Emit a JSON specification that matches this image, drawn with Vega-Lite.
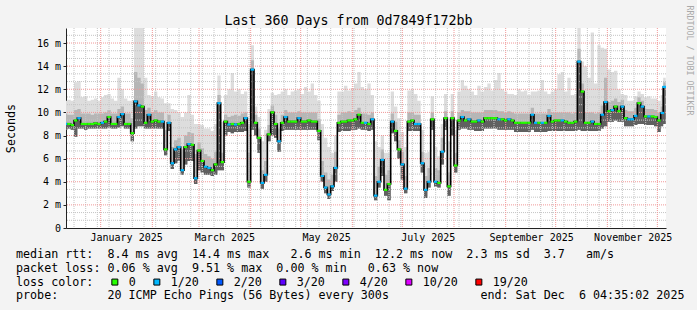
{
"$schema": "https://vega.github.io/schema/vega-lite/v6.json",
"width": 600, "height": 200,
"autosize": {"type": "none"},
"padding": {"left": 66, "top": 28, "right": 31, "bottom": 82},
"background": "#f3f3f3",
"view": {"fill": "#ffffff", "stroke": null},
"title": {"text": ["median\u00a0rtt:\u00a0\u00a08.4\u00a0ms\u00a0avg\u00a0\u00a014.4\u00a0ms\u00a0max\u00a0\u00a0\u00a02.6\u00a0ms\u00a0min\u00a0\u00a012.2\u00a0ms\u00a0now\u00a0\u00a02.3\u00a0ms\u00a0sd\u00a0\u00a03.7\u00a0\u00a0\u00a0am/s", "packet\u00a0loss:\u00a00.06\u00a0%\u00a0avg\u00a0\u00a09.51\u00a0%\u00a0max\u00a0\u00a00.00\u00a0%\u00a0min\u00a0\u00a0\u00a00.63\u00a0%\u00a0now", "loss\u00a0color:", "probe:\u00a0\u00a0\u00a0\u00a0\u00a0\u00a0\u00a020\u00a0ICMP\u00a0Echo\u00a0Pings\u00a0(56\u00a0Bytes)\u00a0every\u00a0300s\u00a0\u00a0\u00a0\u00a0\u00a0\u00a0\u00a0\u00a0\u00a0\u00a0\u00a0\u00a0\u00a0end:\u00a0Sat\u00a0Dec\u00a0\u00a06\u00a004:35:02\u00a02025"],
 "orient": "bottom", "anchor": "start", "frame": "group", "dx": -50, "offset": -40,
 "font": "DejaVu Sans Mono", "fontSize": 11.69, "fontWeight": "normal", "color": "#000000", "lineHeight": 13.8, "align": "left", "baseline": "top"},
"datasets": {
"smoke": [
{"d":"2024-12-11","med":9.0,"lo":8.5,"up":9.9,"hi":11.0,"loss":"1/20"},
{"d":"2024-12-13","med":9.0,"lo":8.6,"up":9.8,"hi":11.1,"loss":"0"},
{"d":"2024-12-15","med":8.9,"lo":8.5,"up":9.8,"hi":11.0,"loss":"0"},
{"d":"2024-12-17","med":9.3,"lo":7.9,"up":10.2,"hi":12.6,"loss":"0"},
{"d":"2024-12-19","med":9.5,"lo":8.6,"up":10.3,"hi":12.7,"loss":"1/20"},
{"d":"2024-12-21","med":9.0,"lo":8.6,"up":9.9,"hi":11.3,"loss":"0"},
{"d":"2024-12-23","med":9.0,"lo":8.5,"up":9.9,"hi":11.4,"loss":"0"},
{"d":"2024-12-25","med":9.0,"lo":8.6,"up":9.9,"hi":11.0,"loss":"0"},
{"d":"2024-12-27","med":9.0,"lo":8.6,"up":9.8,"hi":11.1,"loss":"0"},
{"d":"2024-12-29","med":9.05,"lo":8.6,"up":9.9,"hi":11.2,"loss":"0"},
{"d":"2024-12-31","med":9.0,"lo":8.6,"up":9.9,"hi":11.0,"loss":"0"},
{"d":"2025-01-02","med":9.1,"lo":8.6,"up":9.9,"hi":11.3,"loss":"1/20"},
{"d":"2025-01-04","med":9.2,"lo":8.6,"up":10.0,"hi":11.5,"loss":"0"},
{"d":"2025-01-06","med":9.6,"lo":8.7,"up":10.2,"hi":11.6,"loss":"0"},
{"d":"2025-01-08","med":9.0,"lo":8.6,"up":9.9,"hi":11.2,"loss":"0"},
{"d":"2025-01-10","med":9.0,"lo":8.6,"up":9.9,"hi":11.0,"loss":"0"},
{"d":"2025-01-12","med":9.6,"lo":8.7,"up":10.3,"hi":13.0,"loss":"1/20"},
{"d":"2025-01-14","med":9.85,"lo":8.8,"up":10.5,"hi":12.0,"loss":"1/20"},
{"d":"2025-01-16","med":9.0,"lo":8.6,"up":9.9,"hi":11.2,"loss":"0"},
{"d":"2025-01-18","med":9.0,"lo":8.6,"up":9.9,"hi":11.0,"loss":"0"},
{"d":"2025-01-20","med":8.2,"lo":7.5,"up":9.5,"hi":11.0,"loss":"0"},
{"d":"2025-01-22","med":10.95,"lo":8.6,"up":13.5,"hi":17.3,"loss":"1/20"},
{"d":"2025-01-24","med":10.6,"lo":8.8,"up":13.0,"hi":17.3,"loss":"1/20"},
{"d":"2025-01-26","med":10.5,"lo":8.8,"up":12.5,"hi":17.3,"loss":"0"},
{"d":"2025-01-28","med":9.1,"lo":8.6,"up":10.2,"hi":13.0,"loss":"0"},
{"d":"2025-01-30","med":9.8,"lo":8.6,"up":10.4,"hi":11.5,"loss":"1/20"},
{"d":"2025-02-01","med":9.2,"lo":8.6,"up":10.0,"hi":11.4,"loss":"0"},
{"d":"2025-02-03","med":9.3,"lo":8.6,"up":10.2,"hi":11.8,"loss":"0"},
{"d":"2025-02-05","med":9.2,"lo":8.6,"up":10.0,"hi":11.3,"loss":"0"},
{"d":"2025-02-07","med":9.2,"lo":8.6,"up":10.0,"hi":11.2,"loss":"1/20"},
{"d":"2025-02-09","med":6.8,"lo":6.3,"up":8.5,"hi":10.8,"loss":"0"},
{"d":"2025-02-11","med":9.1,"lo":8.4,"up":9.8,"hi":10.8,"loss":"1/20"},
{"d":"2025-02-13","med":5.6,"lo":5.1,"up":7.0,"hi":10.3,"loss":"1/20"},
{"d":"2025-02-15","med":6.8,"lo":5.6,"up":7.6,"hi":10.2,"loss":"1/20"},
{"d":"2025-02-17","med":7.0,"lo":5.8,"up":7.8,"hi":10.0,"loss":"1/20"},
{"d":"2025-02-19","med":5.0,"lo":4.6,"up":6.8,"hi":9.6,"loss":"1/20"},
{"d":"2025-02-21","med":7.0,"lo":5.5,"up":8.0,"hi":10.0,"loss":"0"},
{"d":"2025-02-23","med":7.26,"lo":5.8,"up":8.3,"hi":11.5,"loss":"1/20"},
{"d":"2025-02-25","med":7.2,"lo":5.8,"up":8.2,"hi":9.8,"loss":"0"},
{"d":"2025-02-27","med":4.3,"lo":3.8,"up":6.4,"hi":9.0,"loss":"1/20"},
{"d":"2025-03-01","med":6.7,"lo":5.0,"up":7.4,"hi":9.0,"loss":"0"},
{"d":"2025-03-03","med":5.8,"lo":4.8,"up":6.9,"hi":8.9,"loss":"0"},
{"d":"2025-03-05","med":5.3,"lo":4.6,"up":6.4,"hi":8.6,"loss":"1/20"},
{"d":"2025-03-07","med":5.2,"lo":4.6,"up":6.2,"hi":8.6,"loss":"1/20"},
{"d":"2025-03-09","med":5.0,"lo":4.5,"up":6.0,"hi":8.4,"loss":"0"},
{"d":"2025-03-11","med":5.5,"lo":4.6,"up":6.6,"hi":9.0,"loss":"0"},
{"d":"2025-03-13","med":10.8,"lo":5.0,"up":11.5,"hi":13.2,"loss":"1/20"},
{"d":"2025-03-15","med":5.7,"lo":5.0,"up":6.5,"hi":9.2,"loss":"0"},
{"d":"2025-03-17","med":9.2,"lo":8.0,"up":9.8,"hi":11.5,"loss":"0"},
{"d":"2025-03-19","med":8.95,"lo":8.3,"up":9.6,"hi":12.0,"loss":"1/20"},
{"d":"2025-03-21","med":9.0,"lo":8.2,"up":9.7,"hi":13.4,"loss":"0"},
{"d":"2025-03-23","med":8.95,"lo":8.3,"up":9.8,"hi":11.8,"loss":"1/20"},
{"d":"2025-03-25","med":9.0,"lo":8.3,"up":9.7,"hi":12.0,"loss":"0"},
{"d":"2025-03-27","med":9.1,"lo":8.3,"up":9.9,"hi":11.6,"loss":"0"},
{"d":"2025-03-29","med":9.5,"lo":8.4,"up":10.0,"hi":11.8,"loss":"1/20"},
{"d":"2025-03-31","med":4.0,"lo":3.5,"up":6.5,"hi":9.0,"loss":"0"},
{"d":"2025-04-02","med":13.7,"lo":8.5,"up":14.5,"hi":15.8,"loss":"1/20"},
{"d":"2025-04-04","med":9.1,"lo":8.0,"up":9.8,"hi":10.5,"loss":"0"},
{"d":"2025-04-06","med":7.8,"lo":6.5,"up":8.6,"hi":9.6,"loss":"0"},
{"d":"2025-04-08","med":3.9,"lo":3.4,"up":5.0,"hi":7.5,"loss":"1/20"},
{"d":"2025-04-10","med":4.6,"lo":4.0,"up":5.8,"hi":8.5,"loss":"1/20"},
{"d":"2025-04-12","med":8.1,"lo":7.5,"up":8.9,"hi":10.3,"loss":"0"},
{"d":"2025-04-14","med":10.0,"lo":8.0,"up":10.6,"hi":11.7,"loss":"0"},
{"d":"2025-04-16","med":9.0,"lo":7.8,"up":9.8,"hi":11.5,"loss":"0"},
{"d":"2025-04-18","med":7.5,"lo":6.6,"up":8.6,"hi":11.6,"loss":"1/20"},
{"d":"2025-04-20","med":9.1,"lo":8.4,"up":9.8,"hi":11.8,"loss":"0"},
{"d":"2025-04-22","med":9.6,"lo":8.5,"up":10.2,"hi":12.0,"loss":"1/20"},
{"d":"2025-04-24","med":9.2,"lo":8.5,"up":10.0,"hi":11.5,"loss":"0"},
{"d":"2025-04-26","med":9.2,"lo":8.5,"up":10.0,"hi":11.8,"loss":"0"},
{"d":"2025-04-28","med":9.2,"lo":8.5,"up":10.0,"hi":11.9,"loss":"0"},
{"d":"2025-04-30","med":9.5,"lo":8.5,"up":10.1,"hi":12.0,"loss":"1/20"},
{"d":"2025-05-02","med":9.2,"lo":8.5,"up":10.0,"hi":11.6,"loss":"0"},
{"d":"2025-05-04","med":9.2,"lo":8.5,"up":10.0,"hi":12.2,"loss":"0"},
{"d":"2025-05-06","med":9.3,"lo":8.5,"up":10.0,"hi":11.8,"loss":"0"},
{"d":"2025-05-08","med":9.2,"lo":8.5,"up":10.0,"hi":12.5,"loss":"0"},
{"d":"2025-05-10","med":9.2,"lo":8.5,"up":10.0,"hi":11.5,"loss":"0"},
{"d":"2025-05-12","med":8.4,"lo":7.6,"up":9.4,"hi":11.0,"loss":"0"},
{"d":"2025-05-14","med":4.5,"lo":4.0,"up":5.8,"hi":9.0,"loss":"1/20"},
{"d":"2025-05-16","med":3.5,"lo":3.0,"up":4.8,"hi":7.8,"loss":"1/20"},
{"d":"2025-05-18","med":2.9,"lo":2.5,"up":4.2,"hi":7.0,"loss":"1/20"},
{"d":"2025-05-20","med":3.6,"lo":3.2,"up":4.6,"hi":6.5,"loss":"1/20"},
{"d":"2025-05-22","med":5.2,"lo":4.0,"up":6.6,"hi":8.0,"loss":"1/20"},
{"d":"2025-05-24","med":9.1,"lo":8.3,"up":9.8,"hi":11.8,"loss":"0"},
{"d":"2025-05-26","med":9.2,"lo":8.4,"up":10.0,"hi":11.8,"loss":"0"},
{"d":"2025-05-28","med":9.2,"lo":8.4,"up":10.0,"hi":12.3,"loss":"0"},
{"d":"2025-05-30","med":9.3,"lo":8.4,"up":10.1,"hi":11.9,"loss":"0"},
{"d":"2025-06-01","med":9.3,"lo":8.5,"up":10.0,"hi":12.1,"loss":"0"},
{"d":"2025-06-03","med":9.4,"lo":8.5,"up":10.2,"hi":12.5,"loss":"0"},
{"d":"2025-06-05","med":9.8,"lo":8.6,"up":10.4,"hi":13.5,"loss":"0"},
{"d":"2025-06-07","med":9.1,"lo":8.5,"up":9.9,"hi":12.2,"loss":"0"},
{"d":"2025-06-09","med":9.1,"lo":8.5,"up":9.9,"hi":12.0,"loss":"1/20"},
{"d":"2025-06-11","med":9.0,"lo":8.4,"up":9.8,"hi":12.5,"loss":"0"},
{"d":"2025-06-13","med":9.4,"lo":8.5,"up":10.0,"hi":11.5,"loss":"1/20"},
{"d":"2025-06-15","med":2.8,"lo":2.4,"up":4.5,"hi":7.5,"loss":"1/20"},
{"d":"2025-06-17","med":4.0,"lo":3.5,"up":5.3,"hi":7.0,"loss":"1/20"},
{"d":"2025-06-19","med":5.9,"lo":4.5,"up":6.8,"hi":8.0,"loss":"1/20"},
{"d":"2025-06-21","med":3.3,"lo":2.8,"up":4.6,"hi":6.5,"loss":"0"},
{"d":"2025-06-23","med":3.8,"lo":2.4,"up":5.0,"hi":6.5,"loss":"0"},
{"d":"2025-06-25","med":9.2,"lo":8.2,"up":9.9,"hi":11.8,"loss":"1/20"},
{"d":"2025-06-27","med":8.4,"lo":7.5,"up":9.2,"hi":10.5,"loss":"0"},
{"d":"2025-06-29","med":6.8,"lo":6.0,"up":7.6,"hi":9.5,"loss":"0"},
{"d":"2025-07-01","med":5.5,"lo":4.2,"up":6.6,"hi":8.3,"loss":"1/20"},
{"d":"2025-07-03","med":3.4,"lo":3.0,"up":4.5,"hi":7.0,"loss":"1/20"},
{"d":"2025-07-05","med":9.2,"lo":8.4,"up":10.0,"hi":11.9,"loss":"0"},
{"d":"2025-07-07","med":9.3,"lo":8.4,"up":10.0,"hi":12.0,"loss":"0"},
{"d":"2025-07-09","med":9.0,"lo":8.4,"up":9.8,"hi":11.6,"loss":"1/20"},
{"d":"2025-07-11","med":9.0,"lo":8.4,"up":9.8,"hi":11.0,"loss":"1/20"},
{"d":"2025-07-13","med":5.6,"lo":4.8,"up":6.6,"hi":8.5,"loss":"1/20"},
{"d":"2025-07-15","med":3.3,"lo":2.6,"up":4.5,"hi":6.5,"loss":"1/20"},
{"d":"2025-07-17","med":4.0,"lo":3.5,"up":5.2,"hi":6.6,"loss":"1/20"},
{"d":"2025-07-19","med":9.4,"lo":8.5,"up":10.0,"hi":11.4,"loss":"0"},
{"d":"2025-07-21","med":4.0,"lo":3.6,"up":5.2,"hi":7.0,"loss":"1/20"},
{"d":"2025-07-23","med":3.9,"lo":3.5,"up":5.0,"hi":6.2,"loss":"0"},
{"d":"2025-07-25","med":6.6,"lo":5.5,"up":7.8,"hi":9.0,"loss":"1/20"},
{"d":"2025-07-27","med":9.5,"lo":8.5,"up":10.1,"hi":11.6,"loss":"0"},
{"d":"2025-07-29","med":3.6,"lo":2.8,"up":4.8,"hi":7.5,"loss":"0"},
{"d":"2025-07-31","med":9.5,"lo":8.0,"up":10.1,"hi":11.6,"loss":"0"},
{"d":"2025-08-02","med":5.4,"lo":4.8,"up":6.5,"hi":8.5,"loss":"0"},
{"d":"2025-08-04","med":9.3,"lo":8.5,"up":10.0,"hi":11.8,"loss":"0"},
{"d":"2025-08-06","med":9.6,"lo":8.6,"up":10.2,"hi":12.8,"loss":"1/20"},
{"d":"2025-08-08","med":9.3,"lo":8.6,"up":10.1,"hi":12.3,"loss":"0"},
{"d":"2025-08-10","med":9.4,"lo":8.5,"up":10.1,"hi":12.0,"loss":"1/20"},
{"d":"2025-08-12","med":9.2,"lo":8.5,"up":10.0,"hi":11.8,"loss":"0"},
{"d":"2025-08-14","med":9.2,"lo":8.4,"up":10.0,"hi":11.5,"loss":"0"},
{"d":"2025-08-16","med":9.3,"lo":8.4,"up":10.0,"hi":12.3,"loss":"1/20"},
{"d":"2025-08-18","med":9.2,"lo":8.4,"up":10.0,"hi":11.8,"loss":"0"},
{"d":"2025-08-20","med":9.5,"lo":8.6,"up":10.2,"hi":12.2,"loss":"0"},
{"d":"2025-08-22","med":9.5,"lo":8.6,"up":10.2,"hi":12.5,"loss":"0"},
{"d":"2025-08-24","med":9.5,"lo":8.6,"up":10.2,"hi":11.9,"loss":"0"},
{"d":"2025-08-26","med":9.5,"lo":8.6,"up":10.2,"hi":12.8,"loss":"0"},
{"d":"2025-08-28","med":9.4,"lo":8.5,"up":10.1,"hi":13.4,"loss":"1/20"},
{"d":"2025-08-30","med":9.4,"lo":8.5,"up":10.1,"hi":12.0,"loss":"0"},
{"d":"2025-09-01","med":9.3,"lo":8.5,"up":10.0,"hi":11.8,"loss":"0"},
{"d":"2025-09-03","med":9.4,"lo":8.5,"up":10.1,"hi":11.6,"loss":"1/20"},
{"d":"2025-09-05","med":9.3,"lo":8.5,"up":10.0,"hi":11.6,"loss":"0"},
{"d":"2025-09-07","med":9.1,"lo":8.3,"up":9.9,"hi":11.5,"loss":"0"},
{"d":"2025-09-09","med":9.1,"lo":8.3,"up":9.9,"hi":12.0,"loss":"0"},
{"d":"2025-09-11","med":9.1,"lo":8.3,"up":9.9,"hi":11.8,"loss":"0"},
{"d":"2025-09-13","med":9.1,"lo":8.3,"up":9.9,"hi":11.9,"loss":"0"},
{"d":"2025-09-15","med":9.1,"lo":8.3,"up":9.9,"hi":11.5,"loss":"0"},
{"d":"2025-09-17","med":9.8,"lo":8.5,"up":10.4,"hi":11.8,"loss":"1/20"},
{"d":"2025-09-19","med":9.1,"lo":8.3,"up":9.9,"hi":11.8,"loss":"1/20"},
{"d":"2025-09-21","med":9.1,"lo":8.3,"up":9.9,"hi":11.9,"loss":"0"},
{"d":"2025-09-23","med":9.1,"lo":8.3,"up":9.9,"hi":12.8,"loss":"1/20"},
{"d":"2025-09-25","med":9.1,"lo":8.3,"up":9.9,"hi":11.8,"loss":"0"},
{"d":"2025-09-27","med":9.7,"lo":8.4,"up":10.3,"hi":11.6,"loss":"1/20"},
{"d":"2025-09-29","med":9.2,"lo":8.4,"up":10.0,"hi":11.8,"loss":"0"},
{"d":"2025-10-01","med":9.3,"lo":8.4,"up":10.0,"hi":12.0,"loss":"0"},
{"d":"2025-10-03","med":9.3,"lo":8.4,"up":10.0,"hi":13.3,"loss":"0"},
{"d":"2025-10-05","med":9.3,"lo":8.4,"up":10.0,"hi":13.5,"loss":"1/20"},
{"d":"2025-10-07","med":9.2,"lo":8.4,"up":10.0,"hi":11.8,"loss":"0"},
{"d":"2025-10-09","med":9.1,"lo":8.4,"up":10.0,"hi":13.0,"loss":"0"},
{"d":"2025-10-11","med":9.1,"lo":8.4,"up":9.9,"hi":11.5,"loss":"0"},
{"d":"2025-10-13","med":9.2,"lo":8.4,"up":10.0,"hi":11.6,"loss":"0"},
{"d":"2025-10-15","med":14.4,"lo":8.5,"up":15.5,"hi":17.3,"loss":"1/20"},
{"d":"2025-10-17","med":11.8,"lo":8.4,"up":12.5,"hi":14.4,"loss":"0"},
{"d":"2025-10-19","med":9.1,"lo":8.4,"up":10.0,"hi":14.0,"loss":"0"},
{"d":"2025-10-21","med":9.1,"lo":8.4,"up":10.0,"hi":13.0,"loss":"0"},
{"d":"2025-10-23","med":9.2,"lo":8.4,"up":10.0,"hi":16.9,"loss":"1/20"},
{"d":"2025-10-25","med":9.0,"lo":8.4,"up":9.9,"hi":12.5,"loss":"0"},
{"d":"2025-10-27","med":9.0,"lo":8.4,"up":10.0,"hi":15.8,"loss":"0"},
{"d":"2025-10-29","med":9.8,"lo":8.6,"up":10.6,"hi":15.6,"loss":"1/20"},
{"d":"2025-10-31","med":10.9,"lo":8.8,"up":13.0,"hi":15.5,"loss":"1/20"},
{"d":"2025-11-02","med":10.1,"lo":9.2,"up":10.9,"hi":13.7,"loss":"0"},
{"d":"2025-11-04","med":10.2,"lo":9.2,"up":11.0,"hi":13.5,"loss":"1/20"},
{"d":"2025-11-06","med":10.5,"lo":9.3,"up":11.2,"hi":13.6,"loss":"0"},
{"d":"2025-11-08","med":10.1,"lo":9.2,"up":10.9,"hi":12.0,"loss":"0"},
{"d":"2025-11-10","med":10.5,"lo":9.2,"up":11.1,"hi":11.6,"loss":"1/20"},
{"d":"2025-11-12","med":9.5,"lo":8.8,"up":10.2,"hi":11.5,"loss":"0"},
{"d":"2025-11-14","med":9.4,"lo":8.8,"up":10.1,"hi":11.0,"loss":"1/20"},
{"d":"2025-11-16","med":9.4,"lo":8.8,"up":10.1,"hi":11.0,"loss":"1/20"},
{"d":"2025-11-18","med":9.7,"lo":8.9,"up":10.4,"hi":11.4,"loss":"1/20"},
{"d":"2025-11-20","med":10.8,"lo":9.0,"up":11.3,"hi":11.8,"loss":"0"},
{"d":"2025-11-22","med":10.5,"lo":9.0,"up":11.0,"hi":11.6,"loss":"1/20"},
{"d":"2025-11-24","med":9.65,"lo":8.9,"up":10.3,"hi":11.3,"loss":"0"},
{"d":"2025-11-26","med":9.65,"lo":8.9,"up":10.3,"hi":11.4,"loss":"1/20"},
{"d":"2025-11-28","med":9.65,"lo":8.9,"up":10.3,"hi":11.2,"loss":"0"},
{"d":"2025-11-30","med":9.6,"lo":8.8,"up":10.2,"hi":11.2,"loss":"0"},
{"d":"2025-12-02","med":9.3,"lo":8.3,"up":10.0,"hi":11.0,"loss":"0"},
{"d":"2025-12-04","med":9.95,"lo":8.8,"up":10.5,"hi":11.5,"loss":"1/20"},
{"d":"2025-12-05","med":12.2,"lo":9.0,"up":12.6,"hi":13.0,"loss":"1/20"},
{"d":"2025-12-06","med":12.2,"lo":9.0,"up":12.6,"hi":13.0,"loss":"1/20"}
],
"vgrid": [
{"d":"2024-12-16","major":false},{"d":"2024-12-23","major":false},{"d":"2024-12-30","major":false},
{"d":"2025-01-06","major":false},{"d":"2025-01-13","major":false},{"d":"2025-01-20","major":false},{"d":"2025-01-27","major":false},
{"d":"2025-02-03","major":false},{"d":"2025-02-10","major":false},{"d":"2025-02-17","major":false},{"d":"2025-02-24","major":false},
{"d":"2025-03-03","major":false},{"d":"2025-03-10","major":false},{"d":"2025-03-17","major":false},{"d":"2025-03-24","major":false},{"d":"2025-03-31","major":false},
{"d":"2025-04-07","major":false},{"d":"2025-04-14","major":false},{"d":"2025-04-21","major":false},{"d":"2025-04-28","major":false},
{"d":"2025-05-05","major":false},{"d":"2025-05-12","major":false},{"d":"2025-05-19","major":false},{"d":"2025-05-26","major":false},
{"d":"2025-06-02","major":false},{"d":"2025-06-09","major":false},{"d":"2025-06-16","major":false},{"d":"2025-06-23","major":false},{"d":"2025-06-30","major":false},
{"d":"2025-07-07","major":false},{"d":"2025-07-14","major":false},{"d":"2025-07-21","major":false},{"d":"2025-07-28","major":false},
{"d":"2025-08-04","major":false},{"d":"2025-08-11","major":false},{"d":"2025-08-18","major":false},{"d":"2025-08-25","major":false},
{"d":"2025-09-08","major":false},{"d":"2025-09-15","major":false},{"d":"2025-09-22","major":false},{"d":"2025-09-29","major":false},
{"d":"2025-10-06","major":false},{"d":"2025-10-13","major":false},{"d":"2025-10-20","major":false},{"d":"2025-10-27","major":false},
{"d":"2025-11-03","major":false},{"d":"2025-11-10","major":false},{"d":"2025-11-17","major":false},{"d":"2025-11-24","major":false},
{"d":"2025-01-01","major":true},{"d":"2025-02-01","major":true},{"d":"2025-03-01","major":true},{"d":"2025-04-01","major":true},
{"d":"2025-05-01","major":true},{"d":"2025-06-01","major":true},{"d":"2025-07-01","major":true},{"d":"2025-08-01","major":true},
{"d":"2025-09-01","major":true},{"d":"2025-10-01","major":true},{"d":"2025-11-01","major":true},{"d":"2025-12-01","major":true}
],
"hgrid": [
{"v":0.6667,"major":false},{"v":1.3333,"major":false},{"v":2.6667,"major":false},{"v":3.3333,"major":false},
{"v":4.6667,"major":false},{"v":5.3333,"major":false},{"v":6.6667,"major":false},{"v":7.3333,"major":false},
{"v":8.6667,"major":false},{"v":9.3333,"major":false},{"v":10.6667,"major":false},{"v":11.3333,"major":false},
{"v":12.6667,"major":false},{"v":13.3333,"major":false},{"v":14.6667,"major":false},{"v":15.3333,"major":false},{"v":16.6667,"major":false},
{"v":2,"major":true},{"v":4,"major":true},{"v":6,"major":true},{"v":8,"major":true},
{"v":10,"major":true},{"v":12,"major":true},{"v":14,"major":true},{"v":16,"major":true}
]
},
"layer": [
{"data": {"name": "smoke"},
 "mark": {"type": "area", "interpolate": "step", "color": "#dddddd", "clip": true},
 "encoding": {
  "x": {"field": "d", "type": "temporal",
   "scale": {"type": "utc", "domain": [{"year": 2024, "month": 12, "date": 11, "hours": 4, "minutes": 35, "utc": true}, {"year": 2025, "month": 12, "date": 6, "hours": 4, "minutes": 35, "utc": true}]},
   "axis": {
    "orient": "bottom",
    "values": [1737007200000, 1742104800000, 1747375200000, 1752645600000, 1758002400000, 1763272800000],
    "labelExpr": "utcFormat(datum.value, '%B %Y')",
    "grid": false, "ticks": false, "domain": true, "domainColor": "#222222",
    "labelFont": "DejaVu Sans Mono", "labelFontSize": 10, "labelColor": "#000000", "labelPadding": 4, "labelFlush": false, "labelOverlap": false,
    "title": null
   }},
  "y": {"field": "lo", "type": "quantitative", "scale": {"domain": [0, 17.3], "nice": false, "zero": false},
   "axis": {
    "orient": "left",
    "values": [0, 2, 4, 6, 8, 10, 12, 14, 16],
    "labelExpr": "datum.value == 0 ? '0\u00a0\u00a0' : datum.value + '\u00a0m'",
    "grid": false, "ticks": true, "tickSize": 3, "tickColor": "#222222", "domain": true, "domainColor": "#222222",
    "labelFont": "DejaVu Sans Mono", "labelFontSize": 10, "labelColor": "#000000", "labelPadding": 2.5, "labelOverlap": false, "labelFlush": false,
    "title": "Seconds", "titleFont": "DejaVu Sans Mono", "titleFontSize": 11.69, "titleFontWeight": "normal", "titleColor": "#000000",
    "titleAngle": -90, "titleAlign": "center", "titleBaseline": "middle", "titleX": -56, "titleY": 100
   }},
  "y2": {"field": "hi"}
 }},
{"data": {"name": "smoke"},
 "mark": {"type": "area", "interpolate": "step", "color": "#b6b6b6", "clip": true},
 "encoding": {
  "x": {"field": "d", "type": "temporal", "scale": {"type": "utc"}, "axis": null},
  "y": {"field": "lo", "type": "quantitative", "scale": {"domain": [0, 17.3], "nice": false, "zero": false}, "axis": null},
  "y2": {"field": "up"}
 }},
{"data": {"name": "smoke"},
 "mark": {"type": "area", "interpolate": "step", "color": "#606060", "clip": true},
 "encoding": {
  "x": {"field": "d", "type": "temporal", "scale": {"type": "utc"}, "axis": null},
  "y": {"field": "lo", "type": "quantitative", "scale": {"domain": [0, 17.3], "nice": false, "zero": false}, "axis": null},
  "y2": {"field": "med"}
 }},
{"data": {"name": "hgrid"},
 "transform": [{"filter": "!datum.major"}],
 "mark": {"type": "rule", "color": "#c4c4c4", "strokeDash": [1, 1], "strokeWidth": 1},
 "encoding": {
  "y": {"field": "v", "type": "quantitative", "scale": {"domain": [0, 17.3], "nice": false, "zero": false}, "axis": null}
 }},
{"data": {"name": "vgrid"},
 "transform": [{"filter": "!datum.major"}],
 "mark": {"type": "rule", "color": "#c4c4c4", "strokeDash": [1, 1], "strokeWidth": 1},
 "encoding": {
  "x": {"field": "d", "type": "temporal", "scale": {"type": "utc"}, "axis": null}
 }},
{"data": {"name": "hgrid"},
 "transform": [{"filter": "datum.major"}],
 "mark": {"type": "rule", "color": "#f09898", "strokeDash": [1, 1], "strokeWidth": 1},
 "encoding": {
  "y": {"field": "v", "type": "quantitative", "scale": {"domain": [0, 17.3], "nice": false, "zero": false}, "axis": null}
 }},
{"data": {"name": "vgrid"},
 "transform": [{"filter": "datum.major"}],
 "mark": {"type": "rule", "color": "#f09898", "strokeDash": [1, 1], "strokeWidth": 1},
 "encoding": {
  "x": {"field": "d", "type": "temporal", "scale": {"type": "utc"},
   "axis": {"orient": "top", "labels": false, "ticks": false, "domain": false, "grid": false,
    "title": "Last\u00a0360\u00a0Days\u00a0from\u00a00d7849f172bb", "titleFont": "DejaVu Sans Mono", "titleFontSize": 13.3, "titleFontWeight": "normal", "titleColor": "#000000",
    "titleX": 282, "titleY": -4, "titleAlign": "center", "titleBaseline": "alphabetic", "titleAngle": 0}}
 }},
{"data": {"name": "smoke"},
 "mark": {"type": "line", "interpolate": "step", "color": "#000000", "strokeWidth": 1.6, "clip": true},
 "encoding": {
  "x": {"field": "d", "type": "temporal", "scale": {"type": "utc"}, "axis": null},
  "y": {"field": "med", "type": "quantitative", "scale": {"domain": [0, 17.3], "nice": false, "zero": false},
   "axis": {"orient": "right", "domain": false, "ticks": false, "labels": false, "grid": false,
    "title": "RRDTOOL\u00a0/\u00a0TOBI\u00a0OETIKER", "titleFont": "DejaVu Sans Mono", "titleFontSize": 8.3, "titleFontWeight": "normal", "titleColor": "#aaaaaa",
    "titleAngle": 90, "titleAlign": "left", "titleBaseline": "middle", "titleX": 22, "titleY": -23}}
 }},
{"data": {"name": "smoke"},
 "mark": {"type": "tick", "orient": "horizontal", "size": 3.5, "thickness": 2.2, "opacity": 1, "clip": true},
 "encoding": {
  "x": {"field": "d", "type": "temporal", "scale": {"type": "utc"}, "axis": null},
  "y": {"field": "med", "type": "quantitative", "scale": {"domain": [0, 17.3], "nice": false, "zero": false}, "axis": null},
  "color": {"field": "loss", "type": "nominal",
   "scale": {"domain": ["0", "1/20", "2/20", "3/20", "4/20", "10/20", "19/20"], "range": ["#26ff00", "#00b8ff", "#0059ff", "#5e00ff", "#7e00ff", "#dd00ff", "#ff0000"]},
   "legend": {"orient": "none", "legendX": 43, "legendY": 248, "direction": "horizontal", "columns": 7, "title": null,
    "symbolType": "square", "symbolSize": 36, "symbolStrokeColor": "#000000", "symbolStrokeWidth": 1, "symbolOpacity": 1,
    "labelFont": "DejaVu Sans Mono", "labelFontSize": 11.69, "labelColor": "#000000", "labelOffset": 8, "columnPadding": 15, "padding": 0, "labelLimit": 0}}
 }}
],
"resolve": {"axis": {"x": "independent", "y": "independent"}}
}
